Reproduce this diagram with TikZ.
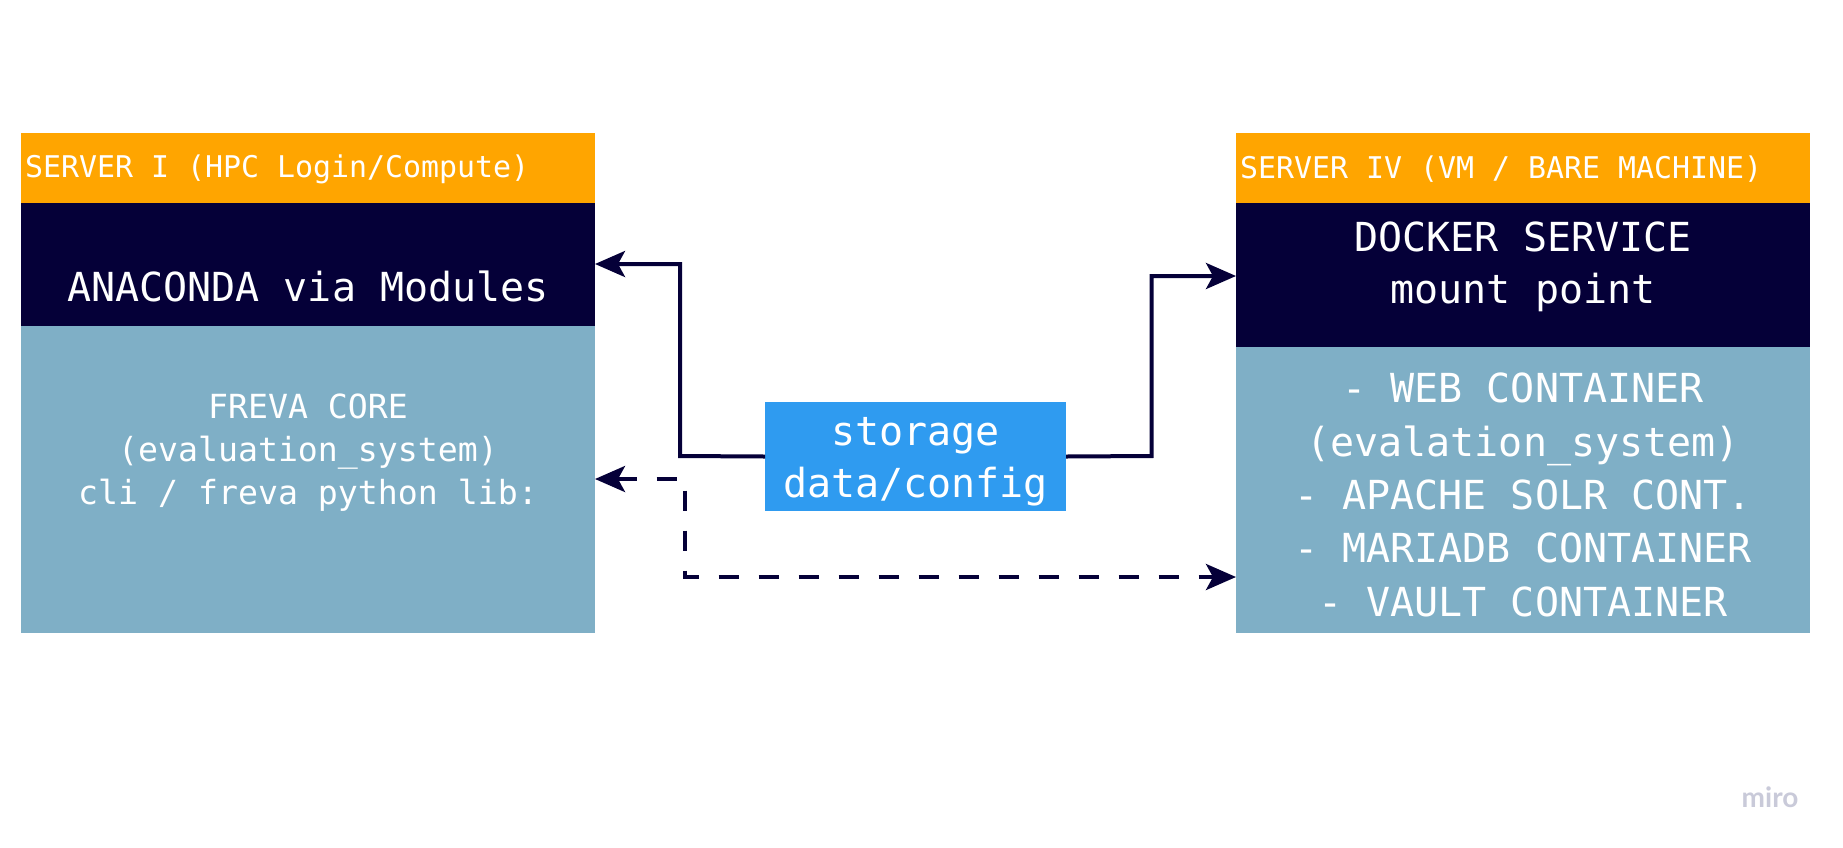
\documentclass[tikz,border=0pt]{standalone}
\usepackage{fontspec}
\setmonofont{DejaVu Sans Mono}
\newfontfamily\mirofont{Lato}
\usetikzlibrary{arrows.meta}
\definecolor{orangeC}{HTML}{FFA500}
\definecolor{navyC}{HTML}{050038}
\definecolor{lightC}{HTML}{7FAFC6}
\definecolor{storeC}{HTML}{2F9BF0}
\definecolor{miroC}{HTML}{C9CAD9}
\begin{document}
\begin{tikzpicture}[x=1pt,y=-1pt,
  band/.style={inner sep=0pt, outer sep=0pt},
  wtext/.style={text=white, font=\ttfamily, align=center, inner sep=0pt},
  conn/.style={draw=navyC, line width=4pt, -{Stealth[length=30pt,width=26pt,inset=7pt]}},
  dconn/.style={conn, dash pattern=on 20pt off 20pt, {Stealth[length=30pt,width=26pt,inset=7pt]}-{Stealth[length=30pt,width=26pt,inset=7pt]}}
]
\fill[white] (0,0) rectangle (1843,847);
\useasboundingbox (0,0) rectangle (1843,847);

% left server
\fill[orangeC] (21,133) rectangle (595,203);
\fill[navyC] (21,203) rectangle (595,326);
\fill[lightC] (21,326) rectangle (595,633);
\coordinate (LA) at (595,264);
\coordinate (LB) at (595,479);

% right server
\fill[orangeC] (1236,133) rectangle (1810,203);
\fill[navyC] (1236,203) rectangle (1810,347);
\fill[lightC] (1236,347) rectangle (1810,633);
\coordinate (RA) at (1236,276);
\coordinate (RB) at (1236,577);

% storage
\node[band, fill=storeC, minimum width=301pt, minimum height=109pt] (S) at (915.5,456.5) {};

% texts
\node[wtext, anchor=west, font=\ttfamily\fontsize{29.9}{36}\selectfont] (t1) at (25,169.5) {SERVER I (HPC Login/Compute)};
\node[wtext, anchor=west, font=\ttfamily\fontsize{29.9}{36}\selectfont] (t2) at (1240,169.5) {SERVER IV (VM / BARE MACHINE)};
\node[wtext, font=\ttfamily\fontsize{40}{52}\selectfont] (t3) at (308,286.5) {ANACONDA via Modules};
\node[wtext, font=\ttfamily\fontsize{33.2}{43}\selectfont] (t4) at (308,452.5) {FREVA CORE\\(evaluation\_system)\\cli / freva python lib:};
\node[wtext, font=\ttfamily\fontsize{40}{52}\selectfont] (t5) at (1523,266.5) {DOCKER SERVICE\\mount point};
\node[wtext, font=\ttfamily\fontsize{40}{53.4}\selectfont] (t6) at (1523,495) {- WEB CONTAINER\\(evalation\_system)\\- APACHE SOLR CONT.\\- MARIADB CONTAINER\\- VAULT CONTAINER};
\node[wtext, font=\ttfamily\fontsize{40}{52}\selectfont] (t7) at (915.5,461.5) {storage\\data/config};
\node[inner sep=0pt, text=miroC, font=\mirofont\bfseries\fontsize{28}{30}\selectfont] (miro) at (1770,797) {miro};

% connectors
\draw[conn] (S.west) -- (680,456) -- (680,264) -- (LA);
\draw[conn] (S.east) -- (1151.5,456) -- (1151.5,276) -- (RA);
\draw[dconn] (LB) -- (685,479) -- (685,577) -- (RB);
\end{tikzpicture}
\end{document}
